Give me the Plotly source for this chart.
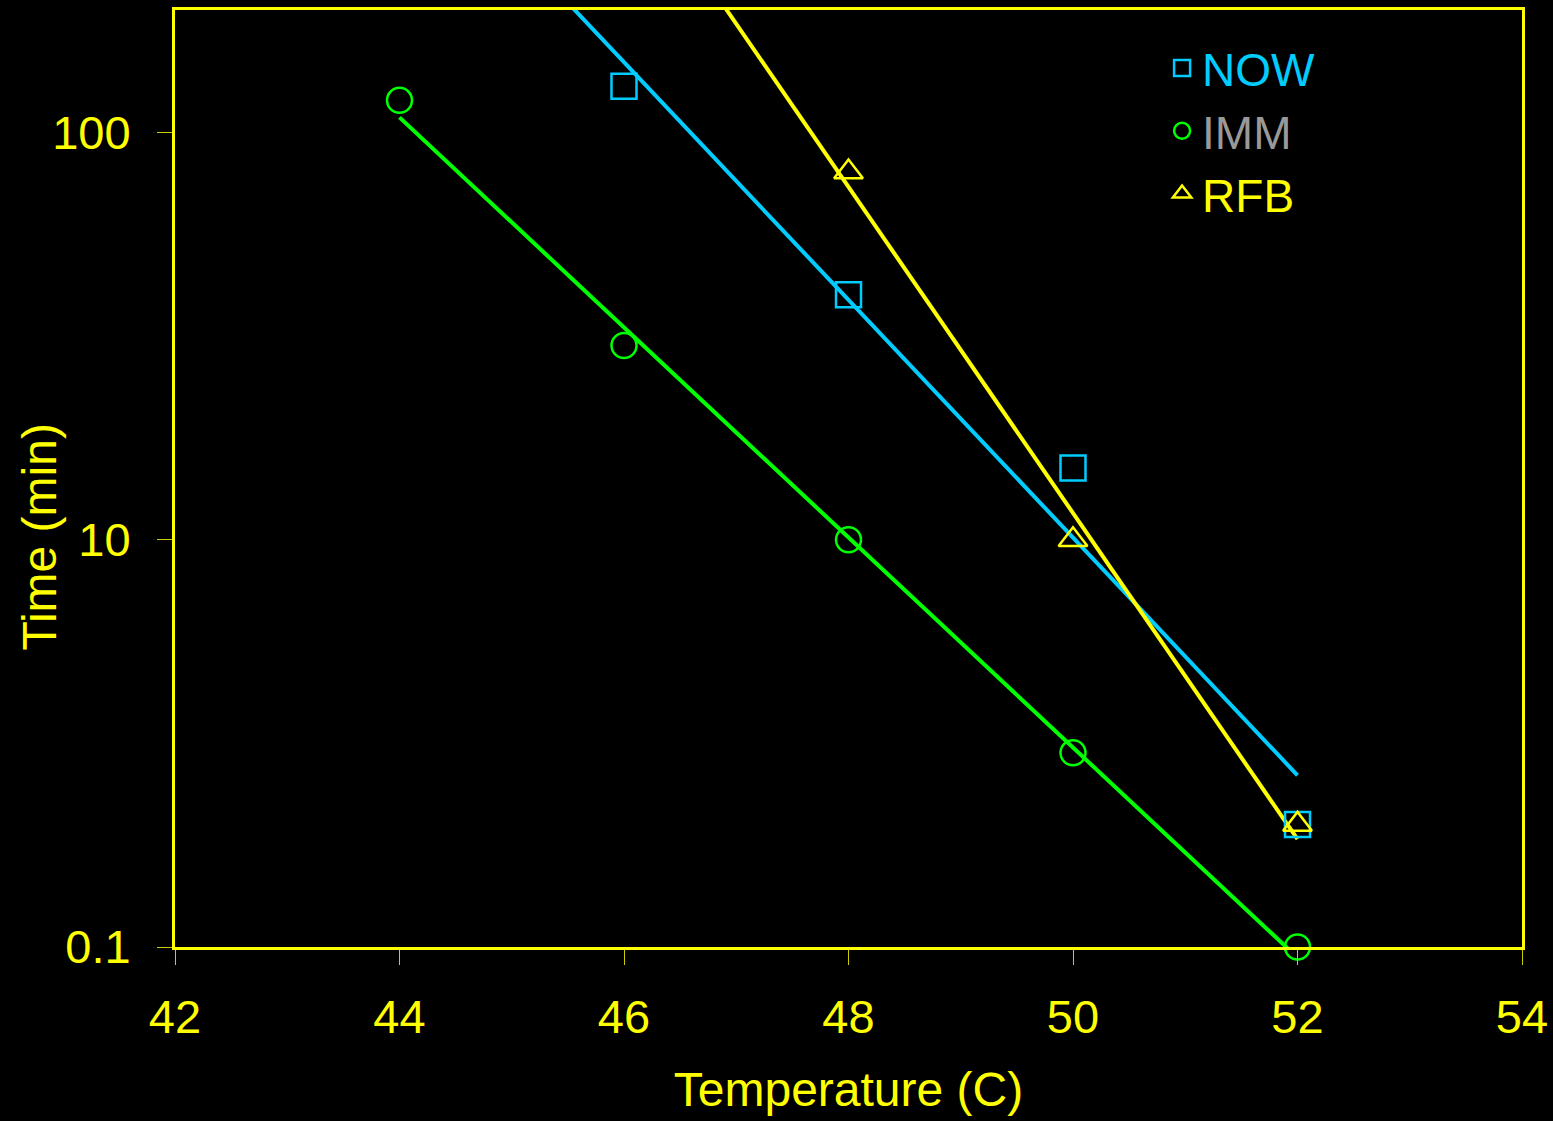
import plotly.graph_objects as go

# ---- data ----
now_temp = [46, 48, 50, 52]
now_time = [130, 40, 15, 2.0]

imm_temp = [44, 46, 48, 50, 52]
imm_time = [120, 30, 10, 3.0, 1.0]

rfb_temp = [48, 50, 52]
rfb_time = [80, 10, 2.0]

# fitted trend lines (end values)
now_fit_temp = [44, 52]
now_fit_time = [571, 2.64]
imm_fit_temp = [44, 52]
imm_fit_time = [109, 0.942]
rfb_fit_temp = [46, 52]
rfb_fit_time = [465, 1.84]

x_ticks = [42, 44, 46, 48, 50, 52, 54]
y_ticks = [1, 10, 100]
y_tick_text = ["0.1", "10", "100"]

# ---- styles ----
C_NOW = "#00CCFF"
C_IMM = "#00FF00"
C_RFB = "#FFFF00"
C_IMM_TXT = "#999999"
AXIS = "#FFFF00"
FONT = "Liberation Sans, Arial, sans-serif"

fig = go.Figure()

for xs, ys, c in [(now_fit_temp, now_fit_time, C_NOW),
                  (imm_fit_temp, imm_fit_time, C_IMM),
                  (rfb_fit_temp, rfb_fit_time, C_RFB)]:
    fig.add_trace(go.Scatter(x=xs, y=ys, mode="lines", showlegend=False,
                             line=dict(color=c, width=4), hoverinfo="skip"))

fig.add_trace(go.Scatter(x=now_temp, y=now_time, mode="markers", cliponaxis=False,
                         name=f"<span style='color:{C_NOW}'>NOW</span>",
                         marker=dict(symbol="square-open", size=25, color=C_NOW,
                                     line=dict(width=2.5, color=C_NOW))))
fig.add_trace(go.Scatter(x=imm_temp, y=imm_time, mode="markers", cliponaxis=False,
                         name=f"<span style='color:{C_IMM_TXT}'>IMM</span>",
                         marker=dict(symbol="circle-open", size=25, color=C_IMM,
                                     line=dict(width=2.5, color=C_IMM))))
fig.add_trace(go.Scatter(x=rfb_temp, y=rfb_time, mode="markers", cliponaxis=False,
                         name=f"<span style='color:{C_RFB}'>RFB</span>",
                         marker=dict(symbol="triangle-up-open", size=25, color=C_RFB,
                                     line=dict(width=2.5, color=C_RFB))))

fig.update_layout(
    width=1553, height=1121,
    paper_bgcolor="black", plot_bgcolor="black",
    margin=dict(l=175, r=31, t=10, b=174),
    font=dict(family=FONT, size=47, color=AXIS),
    showlegend=True,
    legend=dict(x=0.7328, y=0.977, xanchor="left", yanchor="top",
                bgcolor="rgba(0,0,0,0)", font=dict(size=46),
                itemsizing="trace", tracegroupgap=0),
    annotations=[dict(text="Time (min)", textangle=-90, xref="paper", yref="paper",
                      x=-0.1002, y=0.438, xanchor="center", yanchor="middle",
                      showarrow=False, font=dict(size=48, color=AXIS))],
)

fig.update_xaxes(range=[42, 54], tickvals=x_ticks, ticks="outside", ticklen=15,
                 tickwidth=1, tickcolor="#CCCC00", showgrid=False, zeroline=False,
                 showline=True, linecolor=AXIS, linewidth=3, mirror=True,
                 ticklabelstandoff=12, automargin=False,
                 title=dict(text="Temperature (C)", font=dict(size=48), standoff=30))
fig.update_yaxes(type="log", range=[0, 2.30103], tickvals=y_ticks, ticktext=y_tick_text,
                 ticks="outside", ticklen=15, tickwidth=1, tickcolor="#CCCC00",
                 showgrid=False, zeroline=False, showline=True, linecolor=AXIS,
                 linewidth=3, mirror=True, ticklabelstandoff=17, automargin=False)

fig.write_html("out.html", config={"displayModeBar": False},
               post_script="document.body.style.margin='0';"
                           "document.body.style.background='black';")
